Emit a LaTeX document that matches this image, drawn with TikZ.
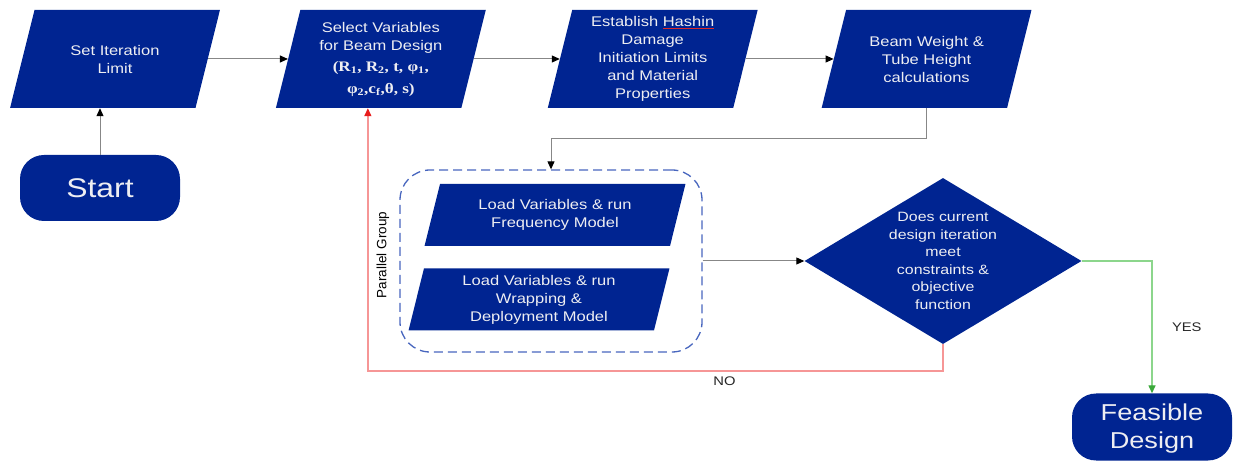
\documentclass[tikz,border=0pt]{standalone}
\usepackage{fontspec}
\setmainfont{Liberation Sans}[FakeStretch=1.18]
\newfontfamily\varsfont{Liberation Serif}[FakeStretch=1.18]
\newfontfamily\plainsans{Liberation Sans}
\usetikzlibrary{shapes.geometric,arrows.meta,positioning}
\definecolor{flowblue}{RGB}{0,36,145}
\definecolor{boxtext}{RGB}{238,238,242}
\definecolor{linegray}{RGB}{135,135,135}
\definecolor{groupblue}{RGB}{72,102,190}
\definecolor{nored}{RGB}{246,150,150}
\definecolor{tipred}{RGB}{232,28,28}
\definecolor{yesgreen}{RGB}{140,214,140}
\definecolor{tipgreen}{RGB}{58,168,58}
\definecolor{markred}{RGB}{220,40,40}
\newlength\markw
\newcommand\spellmark[1]{\settowidth\markw{#1}\rlap{\color{markred}\rule[-2.5pt]{\markw}{0.7pt}}#1}
\newcommand\varsline[1]{{\varsfont\bfseries\fontsize{14.5}{22}\selectfont #1}}
% fixed text boxes so the slanted sides keep their size
\newcommand\iotext[1]{\parbox[c][90pt][c]{153pt}{\centering #1}}
\newcommand\loadtext[1]{\parbox[c][54pt][c]{222pt}{\centering #1}}

\begin{document}
\begin{tikzpicture}[
  x=1pt, y=-1pt,
  font=\fontsize{14}{18}\selectfont,
  iobox/.style={trapezium, trapezium left angle=76, trapezium right angle=104,
    fill=flowblue, text=boxtext, inner sep=4pt},
  term/.style={rounded corners=24pt, fill=flowblue, text=boxtext, align=center, minimum width=160pt, minimum height=66pt},
  decision/.style={diamond, aspect=1.67, fill=flowblue, text=boxtext, align=center, minimum width=277pt,
    minimum height=166pt, inner sep=0pt, font=\fontsize{13.5}{17.5}\selectfont},
  groupbox/.style={draw=groupblue, dash pattern=on 9pt off 5pt, line width=1.3pt, rounded corners=30pt,
    minimum width=302pt, minimum height=182pt},
  arr/.style={-{Triangle[length=8pt,width=7pt,color=black]}, draw=linegray, line width=1pt},
  noarr/.style={-{Triangle[length=8pt,width=7pt,color=tipred]}, draw=nored, line width=1.4pt},
  yesarr/.style={-{Triangle[length=8pt,width=7pt,color=tipgreen]}, draw=yesgreen, line width=1.4pt},
  lbl/.style={font=\fontsize{12.5}{14}\selectfont, text=black!85},
]
\useasboundingbox (0,0) rectangle (1235,462);

\node[iobox] (limit) at (115,59) {\iotext{Set Iteration\\Limit}};
\node[iobox, right=80pt of limit] (select) {\iotext{Select Variables\\for Beam Design\\[3pt]\varsline{(R\textsubscript{1}, R\textsubscript{2}, t, φ\textsubscript{1},}\\[4pt]\varsline{φ\textsubscript{2},c\textsubscript{f},θ, s)}}};
\node[iobox, right=86pt of select] (hashin) {\iotext{Establish \spellmark{Hashin}\\Damage\\Initiation Limits\\and Material\\Properties}};
\node[iobox, right=88pt of hashin] (weight) {\iotext{Beam Weight \&\\Tube Height\\calculations}};

\node[term, font=\fontsize{27}{30}\selectfont] (start) at (100,188) {Start};

\node[groupbox] (group) at (551,261) {};
\node[iobox] (freq) at (555,215) {\loadtext{Load Variables \& run\\Frequency Model}};
\node[iobox, below=22pt of freq, xshift=-16pt] (wrap) {\loadtext{Load Variables \& run\\Wrapping \&\\Deployment Model}};
\node[rotate=90, font=\plainsans\fontsize{13.5}{15}\selectfont] (plabel) at (383,255) {Parallel Group};

\node[decision] (check) at (943,261) {Does current\\design iteration\\meet\\constraints \&\\objective\\function};
\node[term, font=\fontsize{23}{29}\selectfont, minimum height=67pt, text depth=2pt] (feasible) at (1152,427) {Feasible\\[-1pt]Design};

\draw[arr] (start.north) -- (start.north |- limit.south);
\draw[arr] (limit.east) -- (select.west);
\draw[arr] (select.east) -- (hashin.west);
\draw[arr] (hashin.east) -- (weight.west);
\draw[arr] (weight.south) -- ++(0,30) -| (group.north);
\draw[arr] (group.east) -- (check.west);
\draw[yesarr] (check.east) -| node[lbl, pos=0.75, right=16pt] {YES} (feasible.north);
\draw[noarr] (check.south) -- ++(0,27) -| node[lbl, pos=0.19, below=2pt] {NO} ([xshift=-13pt]select.south);
\end{tikzpicture}
\end{document}
